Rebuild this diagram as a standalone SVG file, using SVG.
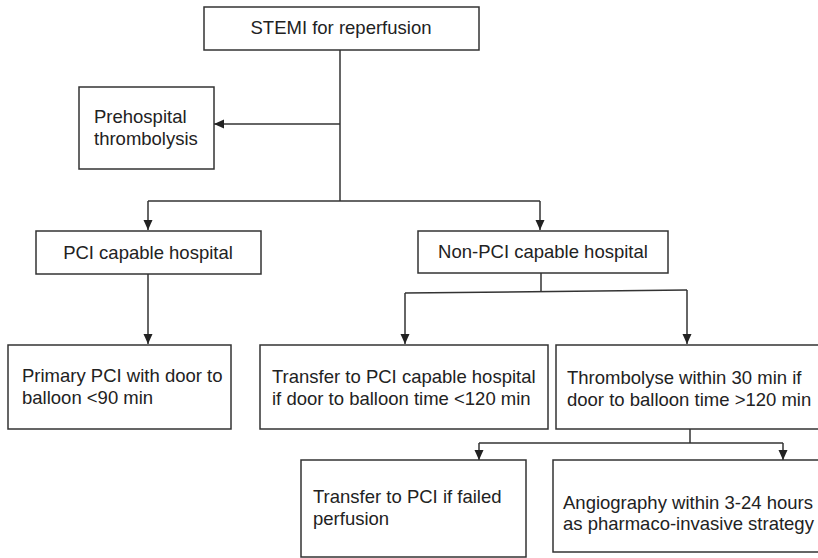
<svg xmlns="http://www.w3.org/2000/svg" width="818" height="558" viewBox="0 0 818 558">
<style>
.box{fill:#fff;stroke:#333;stroke-width:1.5}
.t{font-family:"Liberation Sans",Arial,sans-serif;font-size:18.5px;fill:#222}
.c{text-anchor:middle}
.ln{fill:none;stroke:#333;stroke-width:1.5}
</style>
<defs>
<marker id="ah" markerUnits="userSpaceOnUse" markerWidth="10" markerHeight="10" viewBox="0 0 10 10" refX="10" refY="5" orient="auto">
<path d="M0,0.5 L10,5 L0,9.5 Z" fill="#222"/>
</marker>
</defs>
<rect width="818" height="558" fill="#fff"/>
<g id="connectors">
<path class="ln" d="M340,50 V201"/>
<path class="ln" d="M340,124 H214" marker-end="url(#ah)"/>
<path class="ln" d="M148,201 H540"/>
<path class="ln" d="M148,201 V230" marker-end="url(#ah)"/>
<path class="ln" d="M540,201 V230" marker-end="url(#ah)"/>
<path class="ln" d="M148,274 V344" marker-end="url(#ah)"/>
<path class="ln" d="M541,273 V292"/>
<path class="ln" d="M405,293 L687,290"/>
<path class="ln" d="M405,293 V344" marker-end="url(#ah)"/>
<path class="ln" d="M687,290 V344" marker-end="url(#ah)"/>
<path class="ln" d="M690,429 V443"/>
<path class="ln" d="M479,443 H783"/>
<path class="ln" d="M479,443 V460" marker-end="url(#ah)"/>
<path class="ln" d="M783,443 V460" marker-end="url(#ah)"/>
</g>
<g id="stemi">
<rect class="box" x="204" y="7" width="275" height="43"/>
<text class="t c" x="341" y="34">STEMI for reperfusion</text>
</g>
<g id="prehospital">
<rect class="box" x="79" y="87" width="135" height="82"/>
<text class="t" x="94" y="123">Prehospital</text>
<text class="t" x="94" y="145">thrombolysis</text>
</g>
<g id="pci-capable">
<rect class="box" x="36" y="231" width="225" height="43"/>
<text class="t c" x="148" y="259">PCI capable hospital</text>
</g>
<g id="non-pci">
<rect class="box" x="418" y="231" width="250" height="42"/>
<text class="t c" x="543" y="258">Non-PCI capable hospital</text>
</g>
<g id="primary-pci">
<rect class="box" x="8" y="345" width="223" height="84"/>
<text class="t" x="22" y="382">Primary PCI with door to</text>
<text class="t" x="22" y="404">balloon &lt;90 min</text>
</g>
<g id="transfer-pci">
<rect class="box" x="260" y="345" width="288" height="84"/>
<text class="t" x="272" y="383">Transfer to PCI capable hospital</text>
<text class="t" x="272" y="405">if door to balloon time &lt;120 min</text>
</g>
<g id="thrombolyse">
<rect class="box" x="556" y="345" width="280" height="84"/>
<text class="t" x="567" y="384">Thrombolyse within 30 min if</text>
<text class="t" x="567" y="406">door to balloon time &gt;120 min</text>
</g>
<g id="transfer-failed">
<rect class="box" x="301" y="460" width="225" height="97"/>
<text class="t" x="313" y="503">Transfer to PCI if failed</text>
<text class="t" x="313" y="525">perfusion</text>
</g>
<g id="angiography">
<rect class="box" x="553" y="460" width="280" height="92"/>
<text class="t" x="563" y="509">Angiography within 3-24 hours</text>
<text class="t" x="563" y="530">as pharmaco-invasive strategy</text>
</g>
</svg>
